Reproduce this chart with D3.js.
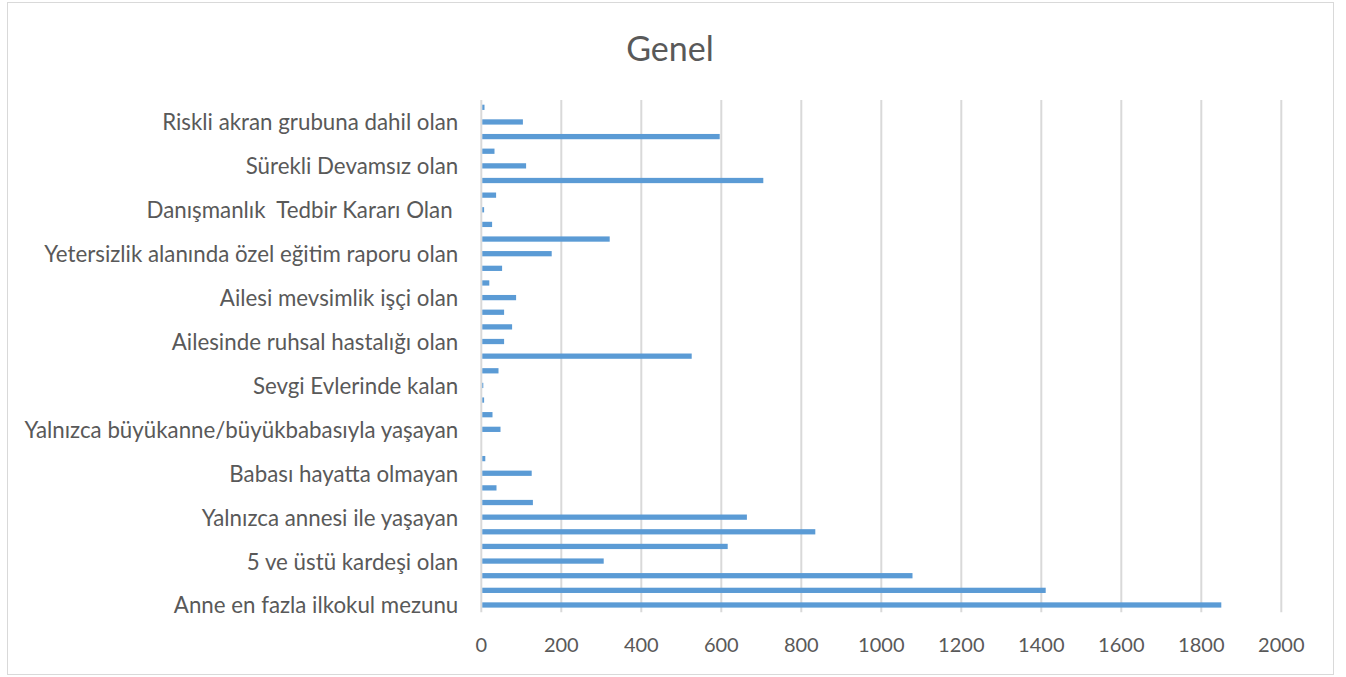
<!DOCTYPE html>
<html>
<head>
<meta charset="utf-8">
<script src="https://cdn.jsdelivr.net/npm/d3@7"></script>
<style>
  body { margin: 0; background: #fff; }
  text { font-family: Lato, "Open Sans", sans-serif; fill: #595959; }
</style>
</head>
<body>
<div id="container"></div>
<script>
// categories from bottom to top, only every third one has a visible label in the chart
var categories = [
  "Anne en fazla ilkokul mezunu", "", "",
  "5 ve üstü kardeşi olan", "", "",
  "Yalnızca annesi ile yaşayan", "", "",
  "Babası hayatta olmayan", "", "",
  "Yalnızca büyükanne/büyükbabasıyla yaşayan", "", "",
  "Sevgi Evlerinde kalan", "", "",
  "Ailesinde ruhsal hastalığı olan", "", "",
  "Ailesi mevsimlik işçi olan", "", "",
  "Yetersizlik alanında özel eğitim raporu olan", "", "",
  "Danışmanlık  Tedbir Kararı Olan ", "", "",
  "Sürekli Devamsız olan", "", "",
  "Riskli akran grubuna dahil olan", ""
];
var values = [
  1850, 1411, 1078,
  306, 616, 835,
  664, 129, 38,
  126, 10, 2,
  48, 28, 7,
  5, 43, 526,
  57, 77, 57,
  87, 20, 52,
  176, 321, 27,
  7, 37, 705,
  112, 33, 596,
  104, 8
];
var xTicks = [0, 200, 400, 600, 800, 1000, 1200, 1400, 1600, 1800, 2000];
var title = "Genel";

var width = 1346, height = 677;
var margin = {top: 100, right: 64.7, bottom: 64.7, left: 481.3};

var svg = d3.select("#container").append("svg")
  .attr("width", width)
  .attr("height", height);

// outer chart border
svg.append("rect")
  .attr("x", 7.5).attr("y", 2.5)
  .attr("width", 1326).attr("height", 672)
  .attr("fill", "#fff")
  .attr("stroke", "#d9d9d9")
  .attr("stroke-width", 1);

var x = d3.scaleLinear().domain([0, 2000]).range([margin.left, width - margin.right]);
var y = d3.scaleBand()
  .domain(d3.range(categories.length))
  .range([height - margin.bottom, margin.top])
  .paddingInner(0.64)
  .paddingOuter(0.32);

// gridlines
svg.append("g")
  .selectAll("line")
  .data(xTicks)
  .enter()
  .append("line")
  .attr("x1", d => x(d)).attr("x2", d => x(d))
  .attr("y1", margin.top).attr("y2", height - margin.bottom)
  .attr("stroke", "#d9d9d9")
  .attr("stroke-width", 2);

// bars
svg.append("g")
  .selectAll("rect")
  .data(values)
  .enter()
  .append("rect")
  .attr("x", x(0) + 1)
  .attr("y", (d, i) => y(i))
  .attr("width", d => Math.max(0, x(d) - x(0) - 1))
  .attr("height", y.bandwidth())
  .attr("fill", "#5b9bd5");

// category labels
svg.append("g")
  .selectAll("text")
  .data(categories)
  .enter()
  .append("text")
  .attr("x", x(0) - 23)
  .attr("y", (d, i) => y(i) + y.bandwidth() / 2)
  .attr("text-anchor", "end")
  .attr("dominant-baseline", "central")
  .style("font-size", "22.3px")
  .style("white-space", "pre")
  .text(d => d);

// x tick labels
svg.append("g")
  .selectAll("text")
  .data(xTicks)
  .enter()
  .append("text")
  .attr("x", d => x(d))
  .attr("y", 644)
  .attr("text-anchor", "middle")
  .attr("dominant-baseline", "central")
  .style("font-size", "20px")
  .text(d => d);

svg.append("text")
  .attr("x", 670)
  .attr("y", 47)
  .attr("text-anchor", "middle")
  .attr("dominant-baseline", "central")
  .style("font-size", "34px")
  .text(title);
</script>
</body>
</html>
